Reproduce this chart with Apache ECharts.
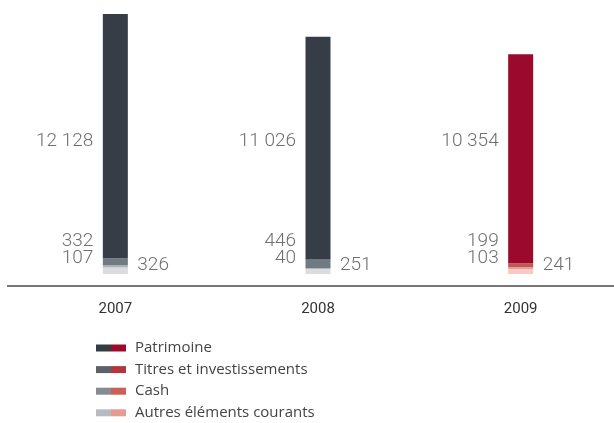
<!DOCTYPE html>
<html><head><meta charset="utf-8">
<script src="https://cdn.jsdelivr.net/npm/echarts@6/dist/echarts.min.js"></script>
<style>html,body{margin:0;padding:0;background:#fff}#c{width:614px;height:423px}</style>
</head><body><div id="c"></div>
<script>
const years = ['2007', '2008', '2009'];
const seriesNames = ['Patrimoine', 'Titres et investissements', 'Cash', 'Autres éléments courants'];
const patrimoine = [12128, 11026, 10354];
const titres = [332, 446, 199];
const cash = [107, 40, 103];
const autres = [326, 251, 241];

const values = [patrimoine, titres, cash, autres];
const barGray = ['#363d46', '#717982', '#aab0b6', '#d9dde1'];
const barRed = ['#9b0a2c', '#c0585a', '#e3a098', '#f6cbc5'];
const legGray = ['#353b43', '#5b626b', '#858b93', '#b8bcc2'];
const legRed = ['#9c0b2b', '#b3353f', '#c9605a', '#e49c92'];

const totals = years.map((_, i) => values.reduce((s, a) => s + a[i], 0));
const maxTotal = Math.max(...totals);
const fmt = v => String(v).replace(/\B(?=(\d{3})+(?!\d))/g, ' ');

// stacking order bottom -> top : autres, cash, titres, patrimoine
const order = [3, 2, 1, 0];
const series = order.map(k => ({
  name: seriesNames[k], type: 'bar', stack: 'total', barWidth: 25,
  data: values[k].map((v, i) => ({ value: v, itemStyle: { color: i === 2 ? barRed[k] : barGray[k] } })),
  itemStyle: { color: barGray[k] }, silent: true
}));

// label anchors (vertical positions in value units, layout only)
const labelY = [6595, 1636, 793, 446];
const labelSide = ['left', 'left', 'left', 'right'];
const labelDist = [22, 22, 22, 22];
values.forEach((arr, k) => {
  series.push({
    type: 'scatter', symbolSize: 0, silent: true, z: 5,
    data: years.map((_, i) => [i, labelY[k]]),
    label: {
      show: true, position: labelSide[k], distance: labelDist[k],
      formatter: p => fmt(arr[p.dataIndex]),
      fontFamily: 'Roboto', fontWeight: 300, fontSize: 19, color: '#4a4a4a'
    }
  });
});

const legendBase = {
  orient: 'vertical', top: 335, height: 100, itemWidth: 15, itemHeight: 7, itemGap: 5.6,
  icon: 'rect', selectedMode: false, padding: 5
};
const chart = echarts.init(document.getElementById('c'));
chart.setOption({
  animation: false,
  grid: { left: 14, width: 608, top: 14, bottom: 149, outerBoundsMode: 'none', containLabel: false },
  xAxis: {
    type: 'category', data: years,
    axisLine: { show: false }, axisTick: { show: false },
    axisLabel: { margin: 28, fontFamily: 'Roboto', fontSize: 15, color: '#333' }
  },
  yAxis: { type: 'value', min: 0, max: maxTotal, show: false },
  legend: [
    Object.assign({}, legendBase, {
      left: 91,
      data: seriesNames.map((n, k) => ({ name: n, itemStyle: { color: legGray[k] } })),
      formatter: () => ' ',
      textStyle: { fontSize: 15, lineHeight: 16 }
    }),
    Object.assign({}, legendBase, {
      left: 106,
      data: seriesNames.map((n, k) => ({ name: n, itemStyle: { color: legRed[k] } })),
      textStyle: { fontFamily: 'Open Sans', fontSize: 15, lineHeight: 16, color: '#444', padding: [0, 0, 0, 4] }
    })
  ],
  graphic: [{
    type: 'line', shape: { x1: 7, y1: 286, x2: 614, y2: 286 },
    style: { stroke: '#777', lineWidth: 2 }, silent: true
  }],
  series: series
});
</script></body></html>
